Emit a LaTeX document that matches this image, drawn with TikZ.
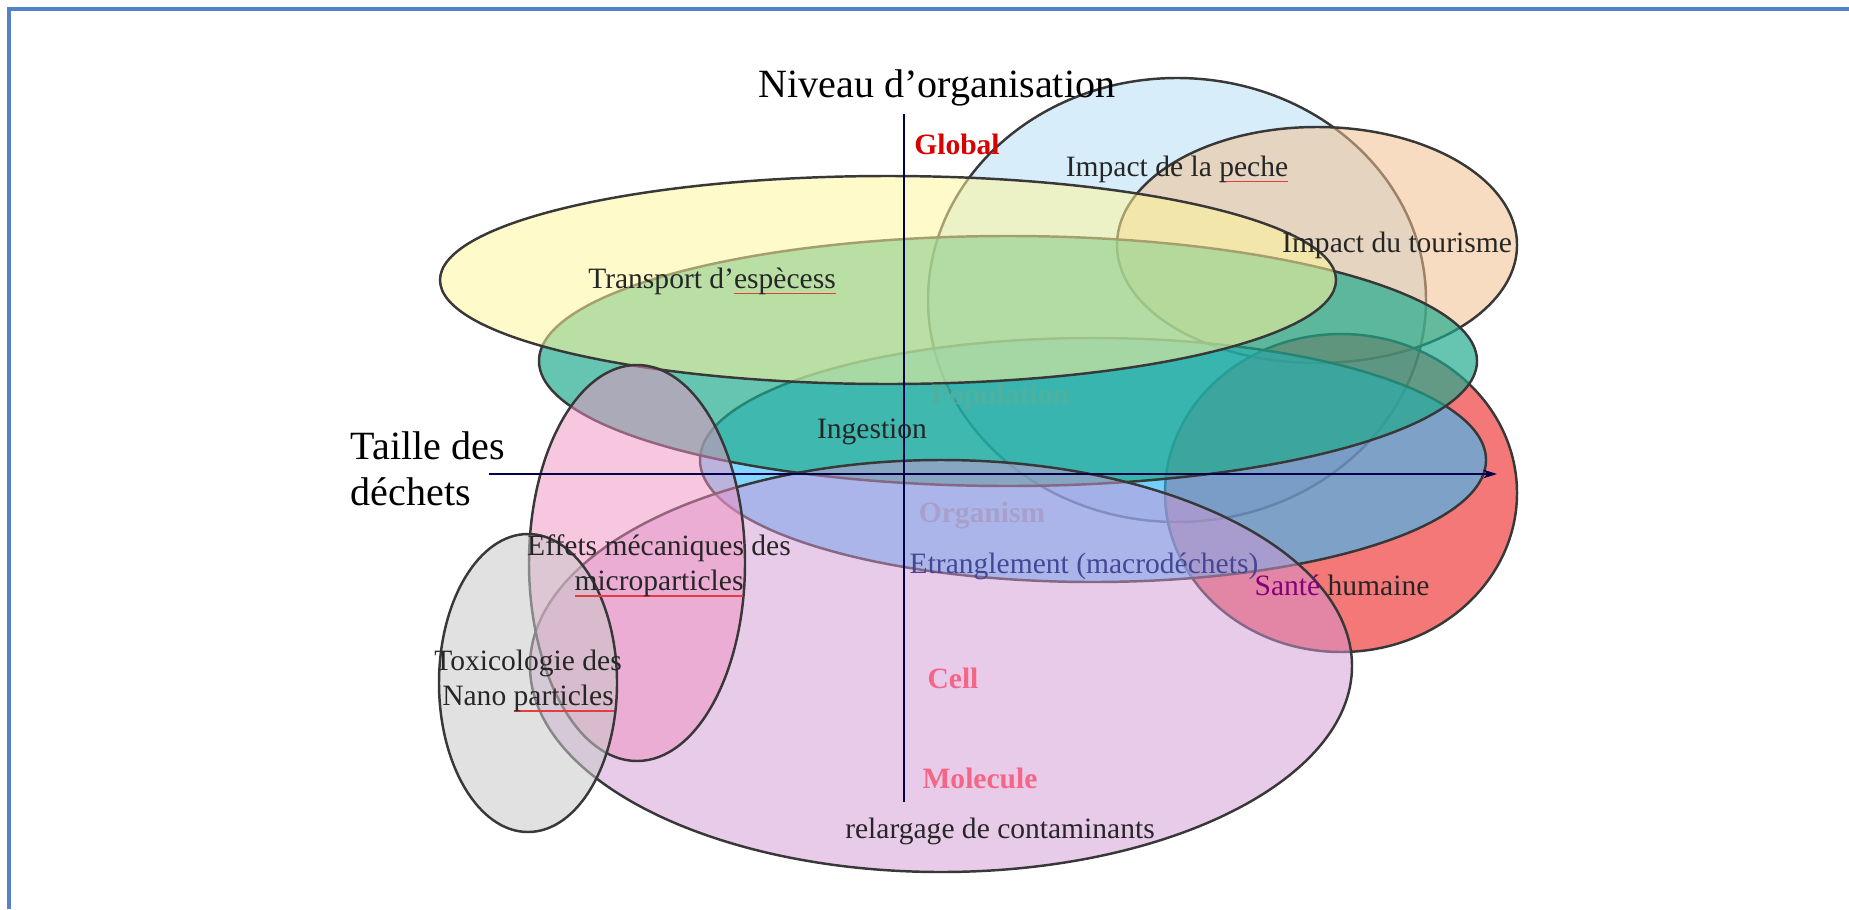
\documentclass[tikz,border=0pt]{standalone}
\usepackage{fontspec}
\setmainfont{Liberation Serif}
\usetikzlibrary{positioning,arrows.meta}

\definecolor{framecol}{RGB}{84,130,200}
\definecolor{pechecol}{RGB}{176,220,244}
\definecolor{tourcol}{RGB}{240,192,144}
\definecolor{redcol}{RGB}{238,48,48}
\definecolor{tealcol}{RGB}{30,170,140}
\definecolor{bluecol}{RGB}{49,187,253}
\definecolor{yelcol}{RGB}{255,245,156}
\definecolor{purpcol}{RGB}{210,150,212}
\definecolor{pinkcol}{RGB}{240,144,192}
\definecolor{graycol}{RGB}{200,200,200}
\definecolor{spellred}{RGB}{230,60,60}

% red spell-check mark under a word
\newsavebox{\spellbox}
\newcommand{\spellmark}[1]{\sbox{\spellbox}{#1}\rlap{\textcolor{spellred}{\rule[-0.45ex]{\wd\spellbox}{0.45pt}}}\usebox{\spellbox}}

\begin{document}
\begin{tikzpicture}[x=0.01cm,y=-0.01cm,
    zone/.style={draw=black!78,line width=0.7pt,fill opacity=#1},
    zone/.default=0.5,
    lab/.style={font=\fontsize{8.4}{10}\selectfont,text=black!85,align=center,inner sep=0pt},
    level/.style={font=\fontsize{8.4}{10}\selectfont\bfseries,inner sep=0pt},
    title/.style={font=\fontsize{11.4}{13.2}\selectfont,align=left,inner sep=0pt},
    axis/.style={draw=black!70!blue,line width=0.5pt}]

    \useasboundingbox (0,0) rectangle (1849,909);
    \draw[framecol,line width=1.3pt] (9,909) |- (1849,9);

    % zones
    \draw[zone=0.5,fill=pechecol] (1177,300) ellipse [x radius=249,y radius=222];
    \draw[zone=0.55,fill=tourcol] (1317,245) ellipse [x radius=200,y radius=118];
    \draw[zone=0.65,fill=redcol] (1341,493) ellipse [x radius=176,y radius=159];
    \draw[zone=0.6,fill=bluecol] (1093,460) ellipse [x radius=393,y radius=122];
    \draw[zone=0.68,fill=tealcol] (1008,361) ellipse [x radius=469,y radius=125];
    \draw[zone=0.55,fill=yelcol] (888,280) ellipse [x radius=448,y radius=104];
    \draw[zone=0.5,fill=purpcol] (941,666) ellipse [x radius=411,y radius=206];
    \draw[zone=0.5,fill=pinkcol] (637,563) ellipse [x radius=108,y radius=198];
    \draw[zone=0.55,fill=graycol] (528,683) ellipse [x radius=89,y radius=149];

    % axes
    \coordinate (vtop) at (904,114);
    \coordinate (vbot) at (904,802);
    \coordinate (hleft) at (489,474);
    \coordinate (hright) at (1497,474);
    \draw[axis] (vtop) -- (vbot);
    \draw[axis,-{Stealth[length=4pt,width=2.5pt]}] (hleft) -- (hright);

    \node[title] (niveau) at (937,88) {Niveau d'organisation};
    \node[title] (taille) at (428,469) {Taille des\\déchets};

    % levels
    \node[level,text=red!85!black] (global) at (957,144) {Global};
    \node[level,text={rgb,255:red,80;green,176;blue,160}] (popu) at (1000,397) {Population};
    \node[level,text={rgb,255:red,168;green,160;blue,204}] (orga) at (982,516) {Organism};
    \node[level,text=pinkcol!70!red] (cell) at (953,678) {Cell};
    \node[level,text=pinkcol!70!red] (mole) at (980,778) {Molecule};

    % impacts
    \node[lab] (peche) at (1177,169) {Impact de la \spellmark{peche}};
    \node[lab] (touri) at (1397,245) {Impact du tourisme};
    \node[lab] (transp) at (712,281) {Transport d'\spellmark{espècess}};
    \node[lab] (inges) at (872,432) {Ingestion};
    \node[lab,text={rgb,255:red,70;green,70;blue,150}] (etran) at (1084,566) {Etranglement (macrodéchets)};
    \node[lab] (sante) at (1342,585) {\textcolor{purple!70!blue}{Santé} humaine};
    \node[lab] (effets) at (659,566) {Effets mécaniques des\\\spellmark{microparticles}};
    \node[lab] (toxi) at (528,681) {Toxicologie des\\Nano \spellmark{particles}};
    \node[lab] (relarg) at (1000,831) {relargage de contaminants};

\end{tikzpicture}
\end{document}
